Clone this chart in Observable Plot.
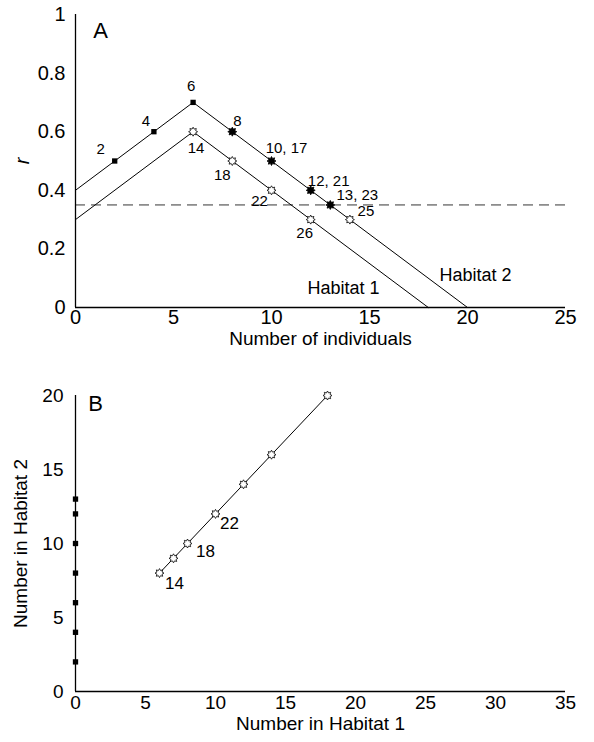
<!DOCTYPE html>
<html>
<head>
<meta charset="utf-8">
<script src="https://cdn.jsdelivr.net/npm/d3@7"></script>
<script src="https://cdn.jsdelivr.net/npm/@observablehq/plot@0.6"></script>
<style>
  html, body { margin: 0; padding: 0; background: #fff; }
  #chart svg { display: block; }
</style>
</head>
<body>
<div id="chart"></div>
<script>
// ---------- Panel A data ----------
const aTicksX = [0, 5, 10, 15, 20, 25];
const aTicksY = [0, 0.2, 0.4, 0.6, 0.8, 1];
const hab2X = [0, 6, 20];
const hab2R = [0.4, 0.7, 0];
const hab1X = [0, 6, 18];
const hab1R = [0.3, 0.6, 0];
const thresholdR = 0.35;
const squareX = [2, 4, 6];
const squareR = [0.5, 0.6, 0.7];
const squareLab = ["2", "4", "6"];
const filledX = [8, 10, 12, 13];
const filledR = [0.6, 0.5, 0.4, 0.35];
const filledLab = ["8", "10, 17", "12, 21", "13, 23"];
const openX = [6, 8, 10, 12, 14];
const openR = [0.6, 0.5, 0.4, 0.3, 0.3];
const openLab = ["14", "18", "22", "26", "25"];

// ---------- Panel B data ----------
const bTicksX = [0, 5, 10, 15, 20, 25, 30, 35];
const bTicksY = [0, 5, 10, 15, 20];
const bSquareH1 = [0, 0, 0, 0, 0, 0, 0];
const bSquareH2 = [2, 4, 6, 8, 10, 12, 13];
const bOpenH1 = [6, 7, 8, 10, 12, 14, 18];
const bOpenH2 = [8, 9, 10, 12, 14, 16, 20];
const bOpenLab = ["14", "", "18", "22", "", "", ""];

// label offsets (styling)
const offA = {
  "2": [-14, -12], "4": [-8, -11], "6": [-2, -16], "8": [5, -11],
  "10, 17": [15, -13], "12, 21": [18, -9], "13, 23": [27, -10],
  "14": [3, 16], "18": [-10, 14], "22": [-12, 11], "26": [-6, 14], "25": [16, -8]
};
const offB = { "14": [15, 10], "18": [18, 8], "22": [14, 10] };

const sun = {
  draw(ctx, size) {
    const r = Math.sqrt(size / Math.PI);
    const n = 8;
    for (let i = 0; i < 2 * n; i++) {
      const a = i * Math.PI / n;
      const rr = i % 2 ? r * 0.62 : r;
      const x = rr * Math.sin(a), y = -rr * Math.cos(a);
      if (i) ctx.lineTo(x, y); else ctx.moveTo(x, y);
    }
    ctx.closePath();
  }
};

const zip2 = (xs, ys, labs) => xs.map((x, i) => ({x, y: ys[i], label: labs ? labs[i] : ""}));

const hab2 = zip2(hab2X, hab2R);
const hab1 = zip2(hab1X, hab1R);
const sqA = zip2(squareX, squareR, squareLab);
const fiA = zip2(filledX, filledR, filledLab);
const opA = zip2(openX, openR, openLab);

const font = "Liberation Sans, Arial, Helvetica, sans-serif";

const labelMarksA = [...sqA, ...fiA, ...opA].map(d =>
  Plot.text([d], {x: "x", y: "y", text: "label", dx: offA[d.label][0], dy: offA[d.label][1], fontSize: 15, fill: "black"})
);

const plotA = Plot.plot({
  width: 594, height: 354,
  marginLeft: 75, marginRight: 29, marginTop: 14, marginBottom: 47,
  style: {fontFamily: font, fontSize: "20px", color: "black", background: "white", overflow: "visible"},
  x: {domain: [0, 25], ticks: aTicksX, tickSize: 0, tickPadding: 2, label: null},
  y: {domain: [0, 1], ticks: aTicksY, tickSize: 0, tickPadding: 10, tickFormat: d => String(d), label: null},
  marks: [
    Plot.ruleX([0], {stroke: "black", strokeWidth: 1.3}),
    Plot.ruleY([0], {stroke: "black", strokeWidth: 1.3}),
    Plot.ruleY([thresholdR], {stroke: "black", strokeWidth: 0.8, strokeDasharray: "10,6"}),
    Plot.line(hab2, {x: "x", y: "y", stroke: "black", strokeWidth: 1}),
    Plot.line(hab1, {x: "x", y: "y", stroke: "black", strokeWidth: 1}),
    Plot.dot(sqA, {x: "x", y: "y", symbol: "square", r: 3, fill: "black", stroke: "none"}),
    Plot.dot(fiA, {x: "x", y: "y", symbol: sun, r: 4.5, fill: "black", stroke: "black", strokeWidth: 0.8}),
    Plot.dot(opA, {x: "x", y: "y", symbol: sun, r: 4.5, fill: "white", stroke: "black", strokeWidth: 0.8}),
    ...labelMarksA,
    Plot.text(["Habitat 1"], {frameAnchor: "top-left", textAnchor: "middle", dx: 268, dy: 267, fontSize: 18}),
    Plot.text(["Habitat 2"], {frameAnchor: "top-left", textAnchor: "middle", dx: 400, dy: 254, fontSize: 18}),
    Plot.text(["A"], {frameAnchor: "top-left", textAnchor: "middle", dx: 25, dy: 8, fontSize: 22}),
    Plot.text(["Number of individuals"], {frameAnchor: "bottom", textAnchor: "middle", dy: 37, fontSize: 19}),
    Plot.text(["r"], {frameAnchor: "left", textAnchor: "middle", dx: -53, rotate: -90, fontSize: 20, fontStyle: "italic"})
  ]
});

const sqB = zip2(bSquareH1, bSquareH2);
const opB = zip2(bOpenH1, bOpenH2, bOpenLab);
const labelMarksB = opB.filter(d => d.label).map(d =>
  Plot.text([d], {x: "x", y: "y", text: "label", dx: offB[d.label][0], dy: offB[d.label][1], fontSize: 17, fill: "black"})
);

const plotB = Plot.plot({
  width: 594, height: 388,
  marginLeft: 75, marginRight: 29, marginTop: 41, marginBottom: 51,
  style: {fontFamily: font, fontSize: "19px", color: "black", background: "white", overflow: "visible"},
  x: {domain: [0, 35], ticks: bTicksX, tickSize: 0, tickPadding: 4, label: null},
  y: {domain: [0, 20], ticks: bTicksY, tickSize: 0, tickPadding: 12, label: null},
  marks: [
    Plot.ruleX([0], {stroke: "black", strokeWidth: 1.3}),
    Plot.ruleY([0], {stroke: "black", strokeWidth: 1.3}),
    Plot.line(opB, {x: "x", y: "y", stroke: "black", strokeWidth: 1}),
    Plot.dot(sqB, {x: "x", y: "y", symbol: "square", r: 3, fill: "black", stroke: "none"}),
    Plot.dot(opB, {x: "x", y: "y", symbol: sun, r: 4.5, fill: "white", stroke: "black", strokeWidth: 0.8}),
    ...labelMarksB,
    Plot.text(["B"], {frameAnchor: "top-left", textAnchor: "middle", dx: 20, dy: 0, fontSize: 22}),
    Plot.text(["Number in Habitat 1"], {frameAnchor: "bottom", textAnchor: "middle", dy: 38, fontSize: 19}),
    Plot.text(["Number in Habitat 2"], {frameAnchor: "left", textAnchor: "middle", dx: -55, rotate: -90, fontSize: 19})
  ]
});

document.getElementById("chart").append(plotA, plotB);
</script>
</body>
</html>
